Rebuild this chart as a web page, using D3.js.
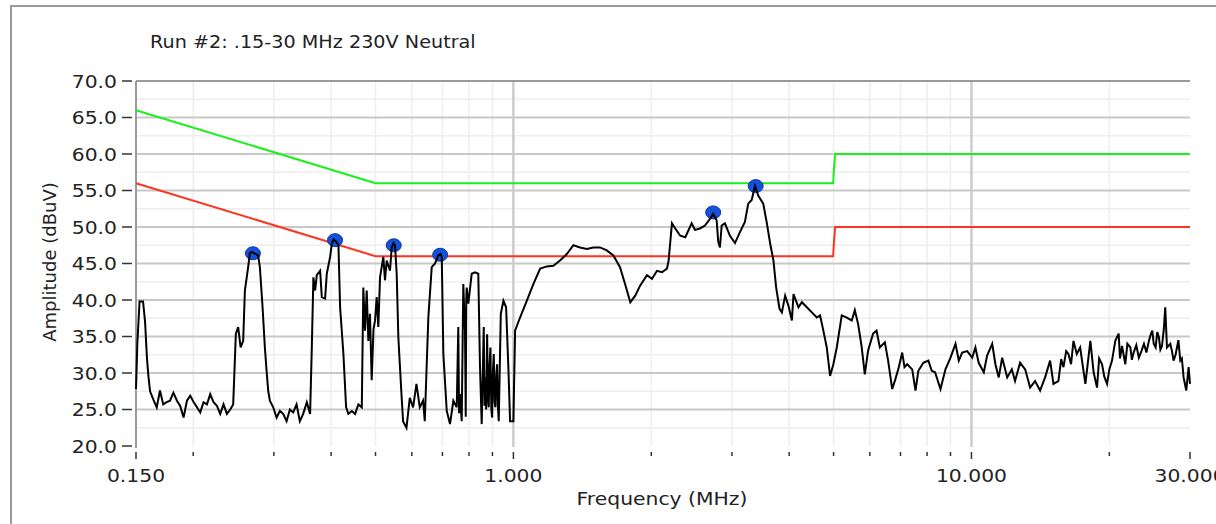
<!DOCTYPE html>
<html>
<head>
<meta charset="utf-8">
<script src="https://cdn.jsdelivr.net/npm/d3@7"></script>
<style>
  body { margin: 0; background: #fff; }
  text { font-family: "DejaVu Sans", sans-serif; fill: #222; }
</style>
</head>
<body>
<script>
// chart text
var chartTitle = "Run #2: .15-30 MHz 230V Neutral";
var xTitle = "Frequency (MHz)";
var yTitle = "Amplitude (dBuV)";

// axis ticks
var yTicks = [20, 25, 30, 35, 40, 45, 50, 55, 60, 65, 70];
var xLabelTicks = [0.15, 1, 10, 30];
var xMinorTicks = [0.15, 0.2, 0.3, 0.4, 0.5, 0.6, 0.7, 0.8, 0.9, 1, 2, 3, 4, 5, 6, 7, 8, 9, 10, 20, 30];

// limit lines (QP = green, AV = red)
var limitFreq = [0.15, 0.5, 4.99, 5.01, 5.04, 30];
var limitQP = [66, 56, 56, 58, 60, 60];
var limitAV = [56, 46, 46, 48, 50, 50];

// marked peaks
var peakFreq = [0.270, 0.408, 0.548, 0.692, 2.73, 3.38];
var peakAmp = [46.4, 48.2, 47.5, 46.2, 52.0, 55.6];

// measured trace
var traceFreq = [
    0.150, 0.151, 0.1527, 0.1554, 0.157, 0.1585, 0.1597, 0.161, 0.1636, 0.1665,
    0.1692, 0.172, 0.175, 0.178, 0.181, 0.1843, 0.1873, 0.1905, 0.1938, 0.197,
    0.2005, 0.2038, 0.2072, 0.2106, 0.2143, 0.2178, 0.2215, 0.2253, 0.2291, 0.2329,
    0.2369, 0.2409, 0.2445, 0.2478, 0.2507, 0.2538, 0.2571, 0.2593, 0.2636, 0.2659,
    0.2686, 0.274, 0.2772, 0.2796, 0.2834, 0.2867, 0.2892, 0.2915, 0.294, 0.299,
    0.3041, 0.3092, 0.3143, 0.3198, 0.3251, 0.3306, 0.3362, 0.3418, 0.3476, 0.354,
    0.3599, 0.363, 0.3659, 0.3691, 0.3722, 0.3785, 0.3817, 0.3881, 0.3914, 0.398,
    0.4014, 0.4051, 0.4102, 0.415, 0.4185, 0.4255, 0.4313, 0.4363, 0.4439, 0.4512,
    0.4588, 0.4667, 0.4703, 0.4743, 0.4784, 0.4823, 0.4863, 0.4905, 0.495, 0.4988,
    0.503, 0.5071, 0.5115, 0.52, 0.5244, 0.5289, 0.5378, 0.5424, 0.5474, 0.5515,
    0.5562, 0.5608, 0.5697, 0.5743, 0.5842, 0.594, 0.604, 0.6143, 0.6246, 0.6351,
    0.6405, 0.6521, 0.6633, 0.6744, 0.6857, 0.6934, 0.6976, 0.7032, 0.7153, 0.7272,
    0.7394, 0.7522, 0.758, 0.761, 0.7646, 0.7712, 0.7774, 0.784, 0.787, 0.789, 0.7908, 0.7972, 0.811, 0.8245,
    0.8382, 0.8455, 0.8527, 0.8615, 0.865, 0.8689, 0.872, 0.8763, 0.880, 0.8834, 0.887, 0.891, 0.895, 0.8987, 0.902, 0.906, 0.910,
    0.9137, 0.918, 0.9215, 0.925, 0.929, 0.9386, 0.951, 0.964, 0.975, 0.9835, 1.0, 1.0086,
    1.034, 1.070, 1.106, 1.144, 1.183, 1.2225, 1.264, 1.308, 1.352, 1.398,
    1.446, 1.495, 1.546, 1.599, 1.653, 1.709, 1.753, 1.80, 1.845, 1.892,
    1.957, 2.007, 2.058, 2.111, 2.164, 2.182, 2.219, 2.256, 2.314, 2.373,
    2.450, 2.491, 2.554, 2.619, 2.686, 2.731, 2.778, 2.80, 2.824, 2.849,
    2.896, 2.97, 3.046, 3.123, 3.202, 3.256, 3.313, 3.368, 3.424, 3.511,
    3.576, 3.636, 3.696, 3.747, 3.81, 3.856, 3.92, 3.986, 4.055, 4.088,
    4.191, 4.264, 4.372, 4.483, 4.595, 4.672, 4.75, 4.832, 4.913, 4.995,
    5.081, 5.21, 5.343, 5.479, 5.564, 5.657, 5.755, 5.85, 5.949, 6.10,
    6.205, 6.31, 6.47, 6.578, 6.714, 6.825, 6.94, 7.06, 7.142, 7.24,
    7.424, 7.548, 7.658, 7.853, 8.053, 8.191, 8.328, 8.559, 8.775, 9.0,
    9.23, 9.383, 9.545, 9.786, 10.04, 10.2, 10.37, 10.64, 10.82, 11.1,
    11.28, 11.47, 11.67, 11.97, 12.25, 12.45, 12.77, 13.1, 13.43, 13.77,
    14.12, 14.48, 14.85, 15.1, 15.48, 15.7, 15.88, 16.1, 16.28, 16.5, 16.7, 16.98, 17.27,
    17.73, 18.18, 18.48, 18.8, 19.0, 19.28, 19.5, 19.77, 20.0, 20.27, 20.61, 20.96, 21.1, 21.32,
    21.67, 21.9, 22.23, 22.4, 22.6, 22.9, 23.2, 23.5, 23.8, 24.1, 24.4, 24.6, 24.82, 25.0, 25.24, 25.45, 25.66, 25.85, 26.06,
    26.3, 26.49, 26.72, 27.17, 27.4, 27.62, 27.9, 28.1, 28.3, 28.57, 28.8, 29.05, 29.44, 29.79, 30.0
];
var traceAmp = [
    27.8, 34.0, 39.8, 39.8, 37.0, 32.0, 29.5, 27.5, 26.4, 25.3,
    27.6, 25.7, 26.0, 26.2, 27.3, 26.2, 25.5, 23.9, 26.2, 26.9,
    26.0, 25.3, 24.6, 26.0, 25.7, 27.1, 26.0, 25.5, 24.4, 25.7,
    24.4, 25.0, 25.7, 35.4, 36.3, 33.5, 34.4, 41.3, 44.5, 46.4,
    46.6, 46.3, 46.1, 44.5, 39.0, 33.5, 30.3, 27.6, 26.2, 25.3,
    23.9, 24.8, 24.4, 23.4, 25.0, 24.6, 25.7, 23.4, 24.4, 26.0,
    24.4, 33.5, 43.1, 41.3, 43.4, 44.0, 40.4, 40.2, 43.6, 45.9,
    47.7, 48.3, 48.0, 47.5, 39.0, 32.6, 25.3, 24.4, 24.8, 24.4,
    25.7, 25.3, 41.7, 35.8, 41.3, 34.4, 38.1, 29.0, 36.0, 37.2,
    40.4, 36.3, 43.1, 45.9, 42.7, 45.4, 44.0, 47.2, 47.8, 47.5,
    43.6, 34.9, 27.1, 23.4, 22.5, 26.6, 25.3, 28.5, 25.3, 26.2,
    23.4, 37.6, 44.5, 45.0, 46.1, 46.3, 45.9, 32.6, 24.8, 23.0,
    26.2, 25.3, 36.3, 24.5, 27.1, 23.4, 42.2, 35.8, 24.0, 40.0, 41.7, 39.5, 43.6, 43.8,
    43.6, 30.8, 23.0, 36.3, 25.5, 29.4, 25.0, 35.3, 26.5, 25.3, 31.0, 33.5, 25.0, 23.9, 30.0, 32.6, 26.0,
    25.3, 30.0, 31.2, 25.5, 23.4, 38.1, 39.9, 39.0, 30.8, 23.4, 23.4, 35.8,
    37.6, 39.9, 42.2, 44.3, 44.6, 44.7, 45.4, 46.3, 47.5, 47.2,
    47.0, 47.2, 47.2, 46.8, 46.1, 44.5, 42.2, 39.7, 40.6, 42.0,
    43.4, 42.9, 44.0, 43.8, 44.3, 45.4, 50.5, 49.8, 48.8, 48.6,
    50.5, 49.6, 49.8, 50.2, 51.1, 51.8, 50.9, 48.0, 47.2, 50.2,
    50.5, 48.8, 47.8, 49.3, 50.7, 53.2, 53.7, 55.6, 54.3, 53.2,
    50.5, 47.7, 45.4, 41.7, 38.8, 38.3, 40.6, 39.2, 37.2, 40.8,
    39.0, 39.7, 39.0, 38.3, 37.6, 37.9, 35.8, 33.5, 29.6, 31.2,
    33.5, 37.9, 37.6, 37.2, 38.6, 36.7, 33.7, 29.8, 33.1, 35.4,
    35.8, 33.5, 34.2, 31.7, 27.8, 29.2, 30.8, 32.8, 30.8, 31.2,
    30.5, 27.6, 30.3, 31.4, 31.7, 30.3, 30.1, 27.8, 30.5, 32.1,
    34.0, 31.7, 32.8, 33.0, 32.1, 33.5, 31.4, 30.1, 32.4, 34.0,
    31.2, 29.4, 32.1, 29.4, 30.5, 28.9, 31.4, 30.5, 28.0, 28.9,
    27.6, 29.4, 31.7, 28.5, 28.9, 31.9, 30.8, 33.0, 32.6, 31.2, 34.4, 32.6, 33.5,
    28.5, 34.4, 30.1, 28.0, 32.0, 31.2, 29.5, 28.5, 30.5, 31.7, 34.4, 35.4, 32.0, 33.7,
    31.2, 34.0, 33.5, 31.8, 32.8, 33.8, 32.1, 33.0, 34.0, 32.8, 34.4, 35.2, 35.8, 34.0, 33.5, 35.6, 34.9, 33.2, 33.7,
    36.0, 39.0, 33.5, 34.0, 33.0, 31.7, 32.5, 33.5, 34.5, 31.7, 32.0, 29.4, 27.6, 30.8, 28.5
];

var width = 1216,
    height = 524;
var plot = { left: 136, right: 1190, top: 81, bottom: 446 };
var stretch = 1.13; // the reference text is a little wide

var svg = d3.select("body").append("svg")
    .attr("width", width)
    .attr("height", height);

// outer frame
svg.append("rect")
    .attr("x", 11).attr("y", 6)
    .attr("width", 1230).attr("height", 540)
    .attr("fill", "none")
    .attr("stroke", "#9a9a9a")
    .attr("stroke-width", 2);

// scales
var x = d3.scaleLog().domain([0.15, 30]).range([plot.left, plot.right]);
var y = d3.scaleLinear().domain([20, 70]).range([plot.bottom, plot.top]);

// minor grid
var minorY = d3.range(22.5, 70, 5);
svg.append("g").selectAll("line").data(minorY).enter().append("line")
    .attr("x1", plot.left).attr("x2", plot.right)
    .attr("y1", function(d) { return y(d); })
    .attr("y2", function(d) { return y(d); })
    .attr("stroke", "#eeeeee").attr("stroke-width", 1.5);

var minorX = xMinorTicks.filter(function(d) { return d !== 1 && d !== 10 && d !== 0.15 && d !== 30; });
svg.append("g").selectAll("line").data(minorX).enter().append("line")
    .attr("x1", function(d) { return x(d); })
    .attr("x2", function(d) { return x(d); })
    .attr("y1", plot.top).attr("y2", plot.bottom)
    .attr("stroke", "#eeeeee").attr("stroke-width", 1.5);

// major grid
svg.append("g").selectAll("line").data(yTicks.filter(function(d) { return d > 20 && d < 70; })).enter().append("line")
    .attr("x1", plot.left).attr("x2", plot.right)
    .attr("y1", function(d) { return y(d); })
    .attr("y2", function(d) { return y(d); })
    .attr("stroke", "#c8c8c8").attr("stroke-width", 2);

svg.append("g").selectAll("line").data([1, 10]).enter().append("line")
    .attr("x1", function(d) { return x(d); })
    .attr("x2", function(d) { return x(d); })
    .attr("y1", plot.top).attr("y2", plot.bottom + 1)
    .attr("stroke", "#cccccc").attr("stroke-width", 2.5);

// plot border: top and left
svg.append("line")
    .attr("x1", plot.left).attr("x2", plot.right)
    .attr("y1", plot.top).attr("y2", plot.top)
    .attr("stroke", "#9a9a9a").attr("stroke-width", 2);
svg.append("line")
    .attr("x1", plot.left).attr("x2", plot.left)
    .attr("y1", plot.top).attr("y2", plot.bottom + 2)
    .attr("stroke", "#9a9a9a").attr("stroke-width", 2);

// y axis ticks and labels
var yAxis = svg.append("g");
yAxis.selectAll("line").data(yTicks).enter().append("line")
    .attr("x1", 122).attr("x2", 132)
    .attr("y1", function(d) { return y(d); })
    .attr("y2", function(d) { return y(d); })
    .attr("stroke", "#333").attr("stroke-width", 1.5);
yAxis.selectAll("text").data(yTicks).enter().append("text")
    .attr("transform", function(d) {
        return "translate(117," + (y(d) + 6.5) + ") scale(" + stretch + ",1)";
    })
    .attr("text-anchor", "end")
    .style("font-size", "18px")
    .text(function(d) { return d.toFixed(1); });

// x axis ticks and labels
var xAxis = svg.append("g");
xAxis.selectAll("line").data(xMinorTicks).enter().append("line")
    .attr("x1", function(d) { return x(d); })
    .attr("x2", function(d) { return x(d); })
    .attr("y1", 452)
    .attr("y2", function(d) { return xLabelTicks.indexOf(d) >= 0 ? 459 : 456; })
    .attr("stroke", "#333").attr("stroke-width", 1.5);
xAxis.selectAll("text").data(xLabelTicks).enter().append("text")
    .attr("transform", function(d) {
        return "translate(" + x(d) + ",482) scale(" + stretch + ",1)";
    })
    .attr("text-anchor", "middle")
    .style("font-size", "18px")
    .text(function(d) { return d3.format(".3f")(d); });

// limit lines
var limitLine = d3.line()
    .x(function(d) { return x(d[0]); })
    .y(function(d) { return y(d[1]); });

svg.append("path")
    .datum(d3.zip(limitFreq, limitQP))
    .attr("d", limitLine)
    .attr("fill", "none")
    .attr("stroke", "#1af01a")
    .attr("stroke-width", 2);

svg.append("path")
    .datum(d3.zip(limitFreq, limitAV))
    .attr("d", limitLine)
    .attr("fill", "none")
    .attr("stroke", "#ff3322")
    .attr("stroke-width", 2);

// peak markers
svg.append("g").selectAll("ellipse").data(d3.zip(peakFreq, peakAmp)).enter().append("ellipse")
    .attr("cx", function(d) { return x(d[0]); })
    .attr("cy", function(d) { return y(d[1]); })
    .attr("rx", 7.5).attr("ry", 6.5)
    .attr("fill", "#1550d8")
    .attr("stroke", "#0a36a8")
    .attr("stroke-width", 1);

// measured trace
svg.append("path")
    .datum(d3.zip(traceFreq, traceAmp))
    .attr("d", limitLine)
    .attr("fill", "none")
    .attr("stroke", "#000")
    .attr("stroke-width", 2)
    .attr("stroke-linejoin", "miter");

// titles
svg.append("text")
    .attr("transform", "translate(150,48) scale(" + stretch + ",1)")
    .style("font-size", "17px")
    .text(chartTitle);

svg.append("text")
    .attr("transform", "translate(662,505) scale(" + stretch + ",1)")
    .attr("text-anchor", "middle")
    .style("font-size", "18px")
    .text(xTitle);

svg.append("text")
    .attr("transform", "translate(56,262) rotate(-90)")
    .attr("text-anchor", "middle")
    .style("font-size", "18px")
    .text(yTitle);
</script>
</body>
</html>
